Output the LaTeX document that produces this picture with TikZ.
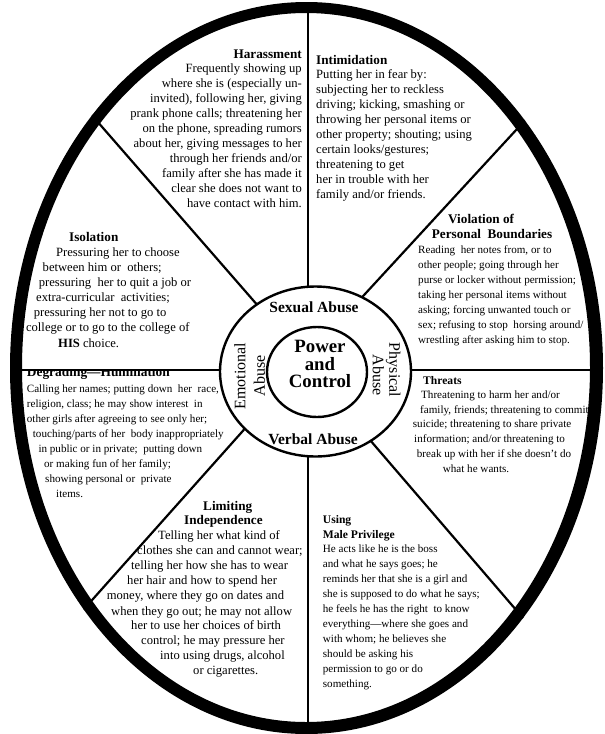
\documentclass[tikz,border=0pt]{standalone}
\usepackage{fontspec}
\setmainfont{Liberation Serif}
\newcommand\hdg[1]{{\bfseries\fontsize{13.2}{15}\selectfont #1}}
\newcommand\hdgs[1]{{\bfseries\fontsize{11.6}{15}\selectfont #1}}
\newcommand\ind[1]{\hspace*{#1pt}}
\newcommand\strt{\rule{0pt}{10pt}}
\begin{document}
\begin{tikzpicture}[x=1pt,y=-1pt,
  bigtxt/.style={font=\fontsize{12.6}{15}\selectfont, inner sep=0pt, align=left, anchor=north west},
  smalltxt/.style={font=\fontsize{11.1}{15}\selectfont, inner sep=0pt, align=left, anchor=north west},
  spoke/.style={line width=2.2pt},
  ringline/.style={line width=2.4pt},
  ab/.style={font=\bfseries\fontsize{15.5}{18}\selectfont, inner sep=0pt},
  abr/.style={font=\fontsize{16}{18}\selectfont, inner sep=0pt}]
\useasboundingbox (0,0) rectangle (605,734);
\fill[white] (0,0) rectangle (605,734);
% spokes
\begin{scope}
  \clip (306.5,368) ellipse [x radius=296.5pt, y radius=366pt];
  \coordinate (tp) at (308,-5);
  \coordinate (bt) at (308,740);
  \coordinate (lf) at (0,370);
  \coordinate (rt) at (610,370);
  \draw[spoke] (tp) -- (bt);
  \draw[spoke] (lf) -- (rt);
  \coordinate (ul1) at (28.5,42.5);  \coordinate (ul2) at (300,354);
  \coordinate (ur1) at (593,46.5);   \coordinate (ur2) at (319.4,343.5);
  \coordinate (ll1) at (19,682);     \coordinate (ll2) at (285.4,383.2);
  \coordinate (lr1) at (587.5,693);  \coordinate (lr2) at (333.7,397.8);
  \draw[spoke] (ul1) -- (ul2);
  \draw[spoke] (ur1) -- (ur2);
  \draw[spoke] (ll1) -- (ll2);
  \draw[spoke] (lr1) -- (lr2);
\end{scope}
% centre circles
\filldraw[ringline, fill=white] (315.5,371.5) ellipse [x radius=95.5pt, y radius=85pt];
\draw[ringline] (317,372) ellipse [x radius=50pt, y radius=45pt];

\node[ab] (sex) at (314,307) {Sexual Abuse};
\node[ab] (verb) at (313,439.3) {Verbal Abuse};
\node[abr, rotate=90] (emo) at (240,376) {Emotional};
\node[abr, rotate=90] (emoab) at (259.3,375.7) {Abuse};
\node[abr, rotate=-90] (phy) at (393.3,370) {Physical};
\node[abr, rotate=-90] (phyab) at (378.3,375) {Abuse};
\node[align=center, inner sep=0pt, font=\bfseries\fontsize{18.8}{17.6}\selectfont] (pc) at (320,364.2) {Power\\and\\Control};

% Harassment
\node[bigtxt, align=right, anchor=north east] (har) at (302,48) {\strt\hdg{Harassment}\\[-0.7pt]
Frequently showing up\\
where she is (especially un-\\
invited), following her, giving\\
prank phone calls; threatening her\\
on the phone, spreading rumors\\
about her, giving messages to her\\
through her friends and/or\\
family after she has made it\\
clear she does not want to\\
have contact with him.};

% Intimidation
\node[bigtxt] (inti) at (316,54) {\strt\hdg{Intimidation}\\[-1pt]
Putting her in fear by:\\
subjecting her to reckless\\
driving; kicking, smashing or\\
throwing her personal items or\\
other property; shouting; using\\
certain looks/gestures;\\
threatening to get\\
her in trouble with her\\
family and/or friends.};

% Isolation
\node[bigtxt] (iso) at (25.9,231.5) {\strt\ind{43.1}\hdg{Isolation}\\[-0.5pt]
\ind{30.1}Pressuring her to choose\\
\ind{16.6}between him or\ \ others;\\
\ind{12.7}pressuring\ \ her to quit a job or\\
\ind{10.1}extra-curricular\ \ activities;\\
\ind{7.7}pressuring her not to go to\\
college or to go to the college of\\[1pt]
\ind{32.1}\textbf{HIS} choice.};

% Degrading
\begin{scope}
  \clip (0,371.3) rectangle (300,400);
  \node[anchor=base west, inner sep=0pt, font=\bfseries\fontsize{13.4}{15}\selectfont] (deg) at (26.7,376) {Degrading—Humiliation};
\end{scope}
\node[smalltxt] (degb) at (26.7,382) {\strt Calling her names; putting down\ \ her\ \ race,\\
religion, class; he may show interest\ \ in\\
other girls after agreeing to see only her;\\
\ind{6}touching/parts of her\ \ body inappropriately\\
\ind{11.6}in public or in private;\ \ putting down\\
\ind{17.3}or making fun of her family;\\
\ind{18.3}showing personal or\ \ private\\
\ind{29.3}items.};

% Violation
\node[smalltxt] (vio) at (418,213.5) {\strt\ind{30}\hdg{Violation of}\\
\ind{13.7}\hdg{Personal\ \ Boundaries}\\[-0.5pt]
Reading\ \ her notes from, or to\\
other people; going through her\\
purse or locker without permission;\\
taking her personal items without\\
asking; forcing unwanted touch or\\
sex; refusing to stop\ \ horsing around/\\
wrestling after asking him to stop.};

% Threats
\node[smalltxt] (thr) at (412.7,374.5) {\strt\ind{10.3}\hdgs{Threats}\\[-1.5pt]
\ind{8.3}Threatening to harm her and/or\\
\ind{7.3}family, friends; threatening to commit\\[-0.5pt]
suicide; threatening to share private\\[-0.5pt]
\ind{1.3}information; and/or threatening to\\
\ind{4}break up with her if she doesn’t do\\[0.6pt]
\ind{30}what he wants.};

% Limiting Independence
\node[bigtxt] (lim) at (106.6,500) {\strt\ind{96.4}\hdg{Limiting}\\[-0.5pt]
\ind{77.4}\hdg{Independence}\\[-0.5pt]
\ind{51.4}Telling her what kind of\\
\ind{30.4}clothes she can and cannot wear;\\[0.5pt]
\ind{24.4}telling her how she has to wear\\
\ind{20.4}her hair and how to spend her\\
money, where they go on dates and\\[0.6pt]
\ind{4.4}when they go out; he may not allow\\[-0.6pt]
\ind{24.4}her to use her choices of birth\\
\ind{34.4}control; he may pressure her\\
\ind{53.4}into using drugs, alcohol\\
\ind{86.4}or cigarettes.};

% Male Privilege
\node[smalltxt] (male) at (322.7,513) {\strt\hdgs{Using}\\
\hdgs{Male Privilege}\\[-0.3pt]
He acts like he is the boss\\
and what he says goes; he\\
reminds her that she is a girl and\\
she is supposed to do what he says;\\
he feels he has the right\ \ to know\\
everything—where she goes and\\
with whom; he believes she\\
should be asking his\\
permission to go or do\\
something.};

% outer ring
\fill[black, even odd rule] (306.5,368) ellipse [x radius=296.5pt, y radius=366pt]
  (306,367.5) ellipse [x radius=284pt, y radius=354.5pt];
\end{tikzpicture}
\end{document}
